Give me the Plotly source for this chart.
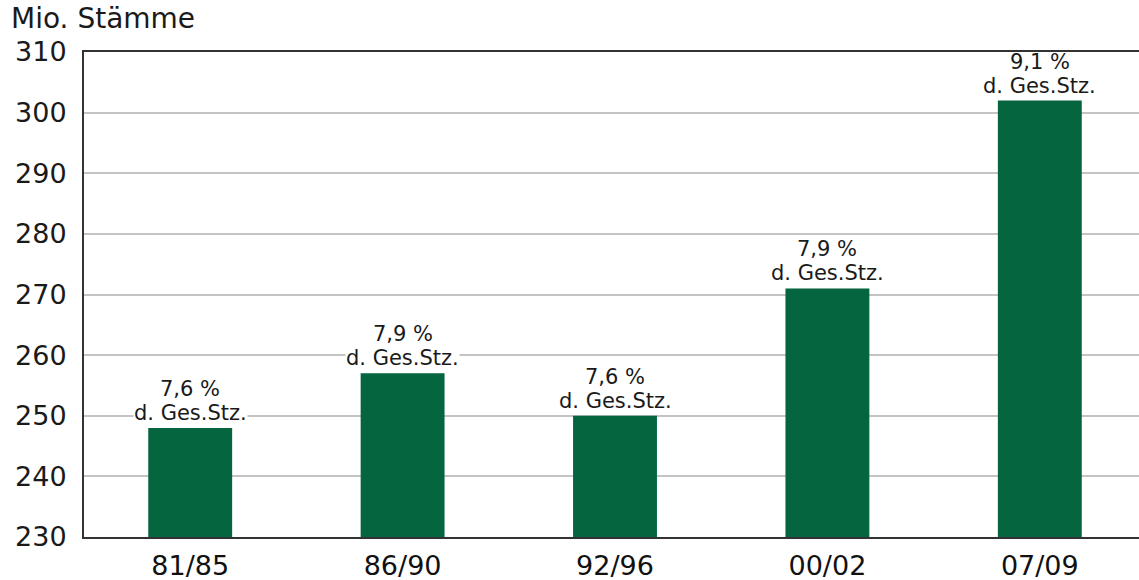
import plotly.graph_objects as go

# Zeiträume der Bundeswaldinventur und Stammzahlen (Mio.)
perioden = ["81/85", "86/90", "92/96", "00/02", "07/09"]
staemme = [248, 257, 250, 271, 302]
anteil = ["7,6 %", "7,9 %", "7,6 %", "7,9 %", "9,1 %"]
anteil_zusatz = "d. Ges.Stz."
y_ticks = [230, 240, 250, 260, 270, 280, 290, 300, 310]

GRUEN = "#04653e"
TEXT = "#1a1a1a"
FONT = "'DejaVu Sans', Verdana, sans-serif"

fig = go.Figure(
    go.Bar(
        x=perioden,
        y=staemme,
        marker=dict(color=GRUEN, line=dict(width=0)),
        width=0.395,
        hoverinfo="skip",
    )
)

# Anteil an der Gesamtstammzahl über jeder Säule, zweizeilig
for p, v, a in zip(perioden, staemme, anteil):
    fig.add_annotation(
        x=p, y=v, text=anteil_zusatz, showarrow=False,
        yanchor="middle", yshift=15,
        bgcolor="white", borderpad=0,
        font=dict(family=FONT, size=21, color=TEXT),
    )
    fig.add_annotation(
        x=p, y=v, text=a, showarrow=False,
        yanchor="middle", yshift=39,
        font=dict(family=FONT, size=21, color=TEXT),
    )

fig.add_annotation(
    text="Mio. Stämme",
    xref="paper", yref="paper",
    x=0, y=1, xshift=-75, yshift=34,
    xanchor="left", yanchor="middle",
    showarrow=False,
    font=dict(family=FONT, size=28, color=TEXT),
)

fig.update_layout(
    width=1139,
    height=580,
    margin=dict(l=84, r=0, t=52, b=43),
    paper_bgcolor="white",
    plot_bgcolor="white",
    showlegend=False,
)

fig.update_xaxes(
    type="category",
    range=[-0.5, 4.467],
    showline=True,
    linecolor="#333333",
    linewidth=2,
    mirror=True,
    ticks="",
    showgrid=False,
    tickfont=dict(family=FONT, size=27, color="#111111"),
    ticklabelstandoff=4,
)

fig.update_yaxes(
    range=[230, 310],
    tickvals=y_ticks,
    showline=True,
    linecolor="#333333",
    linewidth=2,
    ticks="",
    showgrid=True,
    gridcolor="#c4c4c4",
    gridwidth=1.5,
    zeroline=False,
    tickfont=dict(family=FONT, size=27, color=TEXT),
    ticklabelstandoff=10,
)

fig.write_html("out.html")
